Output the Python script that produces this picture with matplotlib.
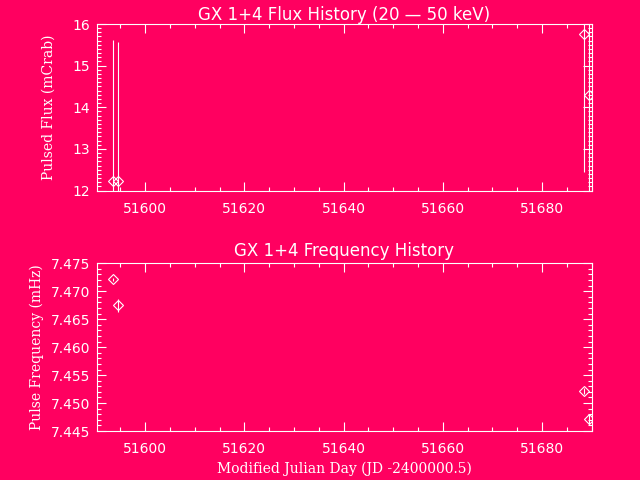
import numpy as np
import matplotlib
matplotlib.use("Agg")
import matplotlib.pyplot as plt
from matplotlib.ticker import MultipleLocator, FormatStrFormatter

# Data
flux_mjd = [51593.5, 51594.6, 51688.45, 51689.4]
flux_val = [12.23, 12.24, 15.77, 14.29]
flux_err = [3.38, 3.32, 3.33, 3.4]

freq_mjd = [51593.5, 51594.6, 51688.45, 51689.4]
freq_val = [7.4721, 7.4675, 7.4522, 7.4472]
freq_err = [0.0003, 0.0012, 0.0005, 0.0009]

bg = "#ff0060"
fg = "white"

plt.rcParams["axes.linewidth"] = 0.8
fig = plt.figure(figsize=(6.4, 4.8), dpi=100, facecolor=bg)
ax1 = fig.add_axes([0.151, 0.603, 0.774, 0.347])
ax2 = fig.add_axes([0.151, 0.102, 0.774, 0.3495])

serif = ["DejaVu Serif"]

for ax in (ax1, ax2):
    ax.set_facecolor(bg)
    for s in ax.spines.values():
        s.set_color(fg)
    ax.set_xlim(51590.2, 51690.1)
    ax.xaxis.set_major_locator(MultipleLocator(20))
    ax.xaxis.set_minor_locator(MultipleLocator(5))
    ax.tick_params(which="both", direction="in", top=True, right=True,
                   colors=fg, labelcolor=fg, labelsize=10, width=0.8)
    ax.tick_params(which="major", length=6.5)
    ax.tick_params(which="minor", length=3.2)
    ax.tick_params(axis="x", which="major", pad=8)
    ax.tick_params(axis="y", which="major", pad=4.5)

ax1.errorbar(flux_mjd, flux_val, yerr=flux_err, fmt="D", ms=4.6, mfc="none",
             mec=fg, ecolor=fg, elinewidth=0.8, capsize=0, mew=0.8)
ax1.set_ylim(12, 16)
ax1.yaxis.set_major_locator(MultipleLocator(1))
ax1.yaxis.set_minor_locator(MultipleLocator(0.1))
ax1.set_title("GX 1+4 Flux History (20 \u2014 50 keV)", color=fg, fontsize=12, pad=3)
ax1.set_ylabel("Pulsed Flux (mCrab)", color=fg, family=serif, fontsize=10, labelpad=12)

ax2.errorbar(freq_mjd, freq_val, yerr=freq_err, fmt="D", ms=4.6, mfc="none",
             mec=fg, ecolor=fg, elinewidth=0.8, capsize=0, mew=0.8)
ax2.set_ylim(7.445, 7.475)
ax2.yaxis.set_major_locator(MultipleLocator(0.005))
ax2.yaxis.set_minor_locator(MultipleLocator(0.001))
ax2.yaxis.set_major_formatter(FormatStrFormatter("%.3f"))
ax2.set_title("GX 1+4 Frequency History", color=fg, fontsize=12, pad=5)
ax2.set_ylabel("Pulse Frequency (mHz)", color=fg, family=serif, fontsize=10, labelpad=5)
ax2.set_xlabel("Modified Julian Day (JD -2400000.5)", color=fg, family=serif,
               fontsize=10, labelpad=4)

fig.savefig("out.png", dpi=100, facecolor=bg)
